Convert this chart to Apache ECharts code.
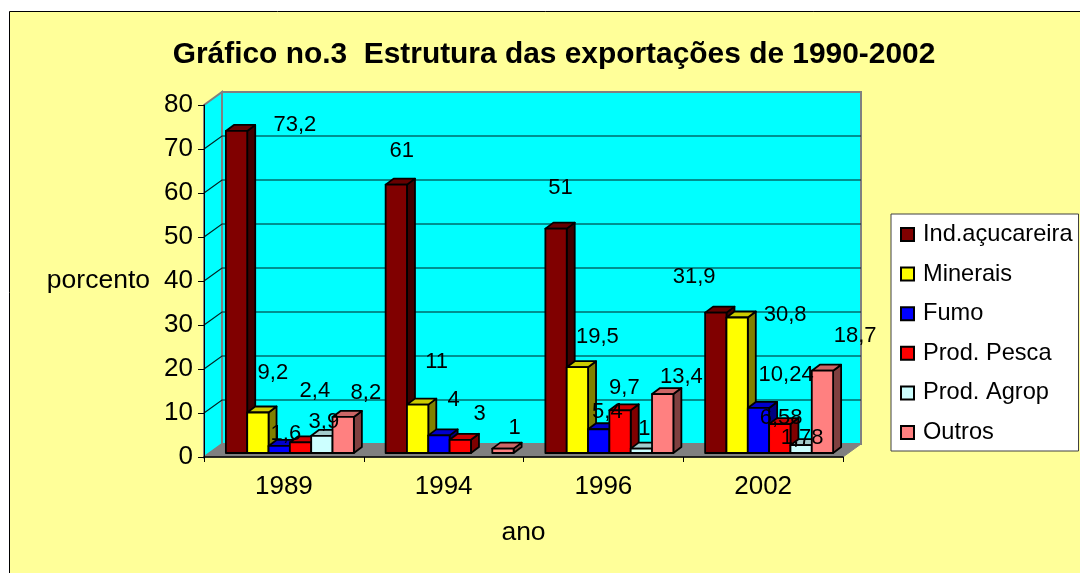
<!DOCTYPE html>
<html>
<head>
<meta charset="utf-8">
<script src="https://cdn.jsdelivr.net/npm/echarts@6/dist/echarts.min.js"></script>
<style>
html,body{margin:0;padding:0;background:#fff;}
#main{width:1080px;height:573px;}
</style>
</head>
<body>
<div id="main"></div>
<script>
const years = ['1989', '1994', '1996', '2002'];
const yTicks = [0, 10, 20, 30, 40, 50, 60, 70, 80];

const indAcucareira = [73.2, 61, 51, 31.9];
const minerais = [9.2, 11, 19.5, 30.8];
const fumo = [1.6, 4, 5.4, 10.24];
const prodPesca = [2.4, 3, 9.7, 6.58];
const prodAgrop = [3.9, null, 1, 1.78];
const outros = [8.2, 1, 13.4, 18.7];

const seriesNames = ['Ind.açucareira', 'Minerais', 'Fumo', 'Prod. Pesca', 'Prod. Agrop', 'Outros'];
const seriesValues = [indAcucareira, minerais, fumo, prodPesca, prodAgrop, outros];

// face colours: front, top, side
const faces = [
    ['#800000', '#660000', '#400000'],
    ['#ffff00', '#cccc00', '#808000'],
    ['#0000ff', '#0000cc', '#000080'],
    ['#ff0000', '#cc0000', '#800000'],
    ['#ccffff', '#a3cccc', '#668080'],
    ['#ff8080', '#cc6666', '#804040']
];

// labels were dragged by hand in the original, [dx, dy] from the value point
const labelShift = [
    [[11, -10], [-42, -38], [-43, -45], [-69, -40]],
    [[-11, -44], [-7, -47], [-6, -34], [22, -7]],
    [[2, -16], [10, -39], [4, -21], [23, -37]],
    [[31, -56], [36, -30], [21, -26], [18, -10]],
    [[40, -18], null, [41, -24], [39, -11]],
    [[82, -28], [71, -25], [78, -21], [92, -39]]
];

const wallDx = 18, wallDy = 13;      // back wall offset
const barDx = 8, barDy = 6;          // bar depth
const barW = 21.33;
const fontName = '"Liberation Sans", Arial, sans-serif';

function renderWalls(params, api) {
    const g = params.coordSys;
    const x0 = g.x, x1 = g.x + g.width, yTop = g.y, yBot = g.y + g.height;
    const kids = [
        { type: 'polygon', shape: { points: [[x0, yTop], [x0 + wallDx, yTop - wallDy], [x0 + wallDx, yBot - wallDy], [x0, yBot]] },
          style: { fill: '#00ffff', stroke: '#808080', lineWidth: 2 } },
        { type: 'rect', shape: { x: x0 + wallDx, y: yTop - wallDy, width: g.width, height: g.height },
          style: { fill: '#00ffff', stroke: '#808080', lineWidth: 2 } },
        { type: 'polygon', shape: { points: [[x0, yBot], [x0 + wallDx, yBot - wallDy], [x1 + wallDx, yBot - wallDy], [x1, yBot]] },
          style: { fill: '#808080', stroke: '#808080', lineWidth: 1 } }
    ];
    yTicks.forEach(function (t) {
        if (t === 0 || t === 80) return;
        const y = api.coord([0, t])[1];
        kids.push({ type: 'polyline', shape: { points: [[x0, y], [x0 + wallDx, y - wallDy], [x1 + wallDx, y - wallDy]] },
            style: { fill: null, stroke: '#002222', lineWidth: 1.2 } });
    });
    return { type: 'group', children: kids };
}

function renderBar(s) {
    return function (params, api) {
        const cat = api.value(0), val = api.value(1);
        const top = api.coord([cat, val]);
        const base = api.coord([cat, 0]);
        const l = top[0] + 6 + (s - 3) * barW;
        const r = l + barW;
        const t = top[1] - 4, b = base[1] - 4;
        const line = { stroke: '#000', lineWidth: 1.8, lineJoin: 'round' };
        return {
            type: 'group',
            children: [
                { type: 'polygon', shape: { points: [[r, t], [r + barDx, t - barDy], [r + barDx, b - barDy], [r, b]] },
                  style: Object.assign({ fill: faces[s][2] }, line) },
                { type: 'polygon', shape: { points: [[l, t], [l + barDx, t - barDy], [r + barDx, t - barDy], [r, t]] },
                  style: Object.assign({ fill: faces[s][1] }, line) },
                { type: 'rect', shape: { x: l, y: t, width: barW, height: b - t },
                  style: Object.assign({ fill: faces[s][0] }, line) }
            ]
        };
    };
}

function renderLabel(params, api) {
    const cat = api.value(0), val = api.value(1), s = api.value(2);
    const p = api.coord([cat, val]);
    const d = labelShift[s][cat];
    return {
        type: 'text',
        x: p[0] + d[0],
        y: p[1] + d[1],
        style: { text: String(val).replace('.', ','), fill: '#000', font: '22px ' + fontName, textAlign: 'center', textVerticalAlign: 'middle' }
    };
}

const labelRows = [];
seriesValues.forEach(function (vals, s) {
    vals.forEach(function (v, c) {
        if (v !== null) labelRows.push([c, v, s]);
    });
});

const series = [{
    type: 'custom', name: 'walls', silent: true, z: 1, renderItem: renderWalls, data: [[0, 0]], encode: { x: 0, y: 1 }
}];
seriesNames.forEach(function (name, s) {
    series.push({
        type: 'custom',
        name: name,
        z: 2,
        silent: true,
        itemStyle: { color: faces[s][0], borderColor: '#000', borderWidth: 1.6 },
        renderItem: renderBar(s),
        encode: { x: 0, y: 1 },
        data: seriesValues[s].map(function (v, c) { return [c, v]; }).filter(function (d) { return d[1] !== null; })
    });
});
series.push({
    type: 'custom', name: 'labels', silent: true, z: 10, renderItem: renderLabel, encode: { x: 0, y: 1 }, data: labelRows
});

const chart = echarts.init(document.getElementById('main'));
chart.setOption({
    animation: false,
    backgroundColor: '#fff',
    textStyle: { fontFamily: fontName, color: '#000' },
    graphic: [{
        type: 'rect', z: -10, silent: true,
        shape: { x: 9.5, y: 11.5, width: 1090, height: 580 },
        style: { fill: '#ffff99', stroke: '#000', lineWidth: 1 }
    }],
    title: {
        text: 'Gráfico no.3  Estrutura das exportações de 1990-2002',
        left: 549, top: 35, textAlign: 'center',
        textStyle: { fontFamily: fontName, fontSize: 29.9, fontWeight: 'bold', color: '#000' }
    },
    grid: { left: 204, top: 105, right: 237, bottom: 116 },
    xAxis: {
        type: 'category',
        data: years,
        z: 5,
        name: 'ano',
        nameLocation: 'middle',
        nameGap: 62,
        nameTextStyle: { fontFamily: fontName, fontSize: 26.5, color: '#000' },
        axisLine: { lineStyle: { color: '#000', width: 1.5 } },
        axisTick: { show: true, length: 5, alignWithLabel: false, lineStyle: { color: '#000' } },
        axisLabel: { fontFamily: fontName, fontSize: 26, color: '#000', margin: 17 }
    },
    yAxis: {
        type: 'value',
        min: 0, max: 80, interval: 10,
        z: 5,
        name: 'porcento',
        nameLocation: 'middle',
        nameRotate: 0,
        nameGap: 54,
        nameTextStyle: { fontFamily: fontName, fontSize: 26.5, color: '#000' },
        splitLine: { show: false },
        axisLine: { show: true, lineStyle: { color: '#000', width: 1 } },
        axisTick: { show: true, length: 6, lineStyle: { color: '#000' } },
        axisLabel: { fontFamily: fontName, fontSize: 26, color: '#000', margin: 11, padding: [3, 0, 0, 0] }
    },
    legend: {
        data: seriesNames,
        orient: 'vertical',
        left: 891, top: 214,
        padding: [8, 6, 6, 9],
        backgroundColor: '#fff',
        borderColor: '#404040',
        borderWidth: 1,
        icon: 'rect',
        itemWidth: 13, itemHeight: 13,
        itemGap: 14.6,
        selectedMode: false,
        textStyle: { fontFamily: fontName, fontSize: 23.6, color: '#000', lineHeight: 25, padding: [0, 0, 0, 4] }
    },
    series: series
});
</script>
</body>
</html>
